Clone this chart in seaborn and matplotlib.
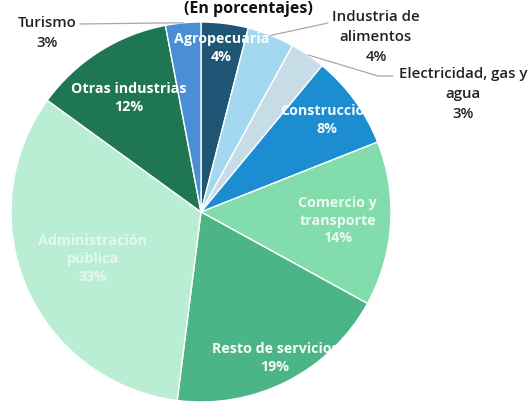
import numpy as np
import matplotlib
matplotlib.use("Agg")
import matplotlib.pyplot as plt
import seaborn as sns

# ---- data ----
sectors = ["Agropecuaria", "Industria de\nalimentos", "Electricidad, gas y\nagua",
           "Construcción", "Comercio y\ntransporte", "Resto de servicios",
           "Administración\npública", "Otras industrias", "Turismo"]
shares = [4, 4, 3, 8, 14, 19, 33, 12, 3]
inside = [True, False, False, True, True, True, True, True, False]

colors = ["#1f5675", "#a3d8f0", "#c6dde8", "#1c8dd0", "#82dcab",
          "#4cb588", "#b9eed4", "#1f7652", "#4a8ed6"]

sns.set_theme(style="white")
plt.rcParams["font.family"] = ["Open Sans", "DejaVu Sans"]

W, H = 532, 403
fig = plt.figure(figsize=(W / 100, H / 100), dpi=100)
cx, cy, R = 201, 212, 190
ax = fig.add_axes([(cx - R) / W, (H - cy - R) / H, 2 * R / W, 2 * R / H])

wedges, _ = ax.pie(shares, colors=colors, startangle=90, counterclock=False,
                   radius=1.0, wedgeprops=dict(edgecolor="#ffffff", linewidth=1.0))
ax.set_xlim(-1, 1)
ax.set_ylim(-1, 1)
ax.set_aspect("equal")
ax.axis("off")

# inside labels
label_r = [0.87, None, None, 0.82, 0.72, 0.86, 0.62, 0.71, None]
text_alpha = [1, 1, 1, 0.95, 0.85, 0.95, 0.6, 1, 1]
total = sum(shares)
cum = 0
mids = []
for s in shares:
    mids.append(90 - 360 * (cum + s / 2) / total)
    cum += s

for i, (name, val) in enumerate(zip(sectors, shares)):
    if not inside[i]:
        continue
    a = np.deg2rad(mids[i])
    r = label_r[i]
    ax.text(r * np.cos(a), r * np.sin(a), f"{name}\n{val}%", ha="center", va="center",
            color="white", alpha=text_alpha[i], fontsize=10.3, fontweight="bold",
            linespacing=1.35)

# outside labels with leader lines
def px2d(px, py):
    return ((px - cx) / R, (cy - py) / R)

outside_pos = {1: (376, 37), 2: (463, 94), 8: (47, 33)}
line_mid = {1: None, 2: (378, 76), 8: (160, 23)}
line_end = {1: (328, 23), 2: (393, 76), 8: (80, 24)}
for i in [1, 2, 8]:
    a = np.deg2rad(mids[i])
    tx, ty = px2d(*outside_pos[i])
    ax.text(tx, ty, f"{sectors[i]}\n{shares[i]}%", ha="center", va="center",
            color="#222222", fontsize=10.8, fontweight="semibold", linespacing=1.55,
            clip_on=False)
    ex, ey = np.cos(a), np.sin(a)
    xs, ys = [ex], [ey]
    if line_mid[i] is not None:
        mx, my = px2d(*line_mid[i])
        xs.append(mx)
        ys.append(my)
    lx, ly = px2d(*line_end[i])
    xs.append(lx)
    ys.append(ly)
    ax.plot(xs, ys, color="#a8a8a8", lw=0.9, clip_on=False)

fig.text(248 / W, 1 - 13 / H, "(En porcentajes)", ha="center", va="baseline",
         fontsize=11.5, fontweight="bold", color="#111111")

fig.savefig("out.png", dpi=100)
